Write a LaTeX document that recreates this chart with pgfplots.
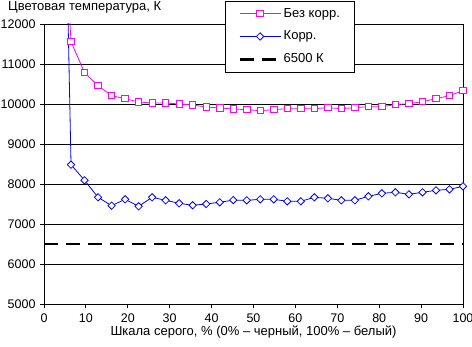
\documentclass[border=0pt]{standalone}
\usepackage{fontspec}
\setmainfont{Liberation Sans}
\usepackage{pgfplots}
\pgfplotsset{compat=1.18}
\usepackage{pgfplotstable}
\definecolor{mag}{RGB}{255,0,255}
\definecolor{blu}{RGB}{0,0,255}

\pgfplotstableread{
x       bez    korr
3.226   17400  25000
6.452   11558  8483
9.677   10783  8092
12.903  10458  7667
16.129  10208  7458
19.355  10133  7617
22.581  10050  7442
25.806  10025  7667
29.032  10025  7592
32.258  10000  7517
35.484  9975   7467
38.710  9925   7500
41.935  9900   7542
45.161  9875   7597
48.387  9858   7592
51.613  9833   7617
54.839  9858   7617
58.065  9883   7567
61.290  9883   7567
64.516  9883   7667
67.742  9908   7642
70.968  9883   7592
74.194  9908   7592
77.419  9933   7692
80.645  9933   7767
83.871  9983   7792
87.097  10008  7742
90.323  10058  7792
93.548  10133  7842
96.774  10208  7867
100     10333  7942
}\datatable

\begin{document}
\fontsize{13bp}{15bp}\selectfont
\begin{tikzpicture}
\begin{axis}[name=ax, scale only axis, width=419bp, height=280bp,
  xmin=0, xmax=100, ymin=5000, ymax=12000,
  xtick={0,10,...,100}, ytick={5000,6000,...,12000},
  scaled y ticks=false, scaled x ticks=false,
  ymajorgrids, major grid style={black, line width=0.8bp},
  axis line style={black, line width=0.8bp},
  tick style={black, line width=0.8bp},
  tick align=outside, tick pos=left, major tick length=4bp,
  /pgf/number format/assume math mode=true,
  /pgf/number format/1000 sep={},
  ticklabel style={font=\fontsize{12.5bp}{14bp}\selectfont},
  xticklabel style={yshift=-1bp},
  xlabel={Шкала серого, \% (0\% – черный, 100\% – белый)},
  xlabel style={font=\fontsize{13bp}{15bp}\selectfont, yshift=5bp},
  legend cell align=left,
  legend style={at={(0.432,1.083)}, anchor=north west, draw=black, line width=0.8bp,
    font=\fontsize{13bp}{15bp}\selectfont, row sep=8bp, inner xsep=13bp, inner ysep=5bp,
    /tikz/every even column/.append style={column sep=3bp}},
  legend image code/.code={\draw[mark repeat=2,mark phase=2,#1] plot coordinates {(0bp,0bp) (20.5bp,0bp) (41bp,0bp)};},
]
\addplot[mag, line width=0.8bp, mark=square*, mark size=3.2bp, mark options={fill=white, solid}] table[x=x,y=bez] {\datatable};
\addlegendentry{Без корр.}
\addplot[blu, line width=0.8bp, mark=square*, mark size=2.6bp, mark options={fill=white, solid, rotate=45}] table[x=x,y=korr] {\datatable};
\addlegendentry{Корр.}
\addplot[black, line width=2.3bp, dash pattern=on 14bp off 8bp] coordinates {(0,6500) (100,6500)};
\addlegendentry{6500 К}
\end{axis}
\node[anchor=north west, inner sep=0pt, font=\fontsize{13bp}{15bp}\selectfont] at ([shift={(-36bp,22.7bp)}]ax.north west) {Цветовая температура, К};
\pgfresetboundingbox
\path ([shift={(-44bp,-43bp)}]ax.south west) rectangle ([shift={(9bp,24bp)}]ax.north east);
\end{tikzpicture}
\end{document}
